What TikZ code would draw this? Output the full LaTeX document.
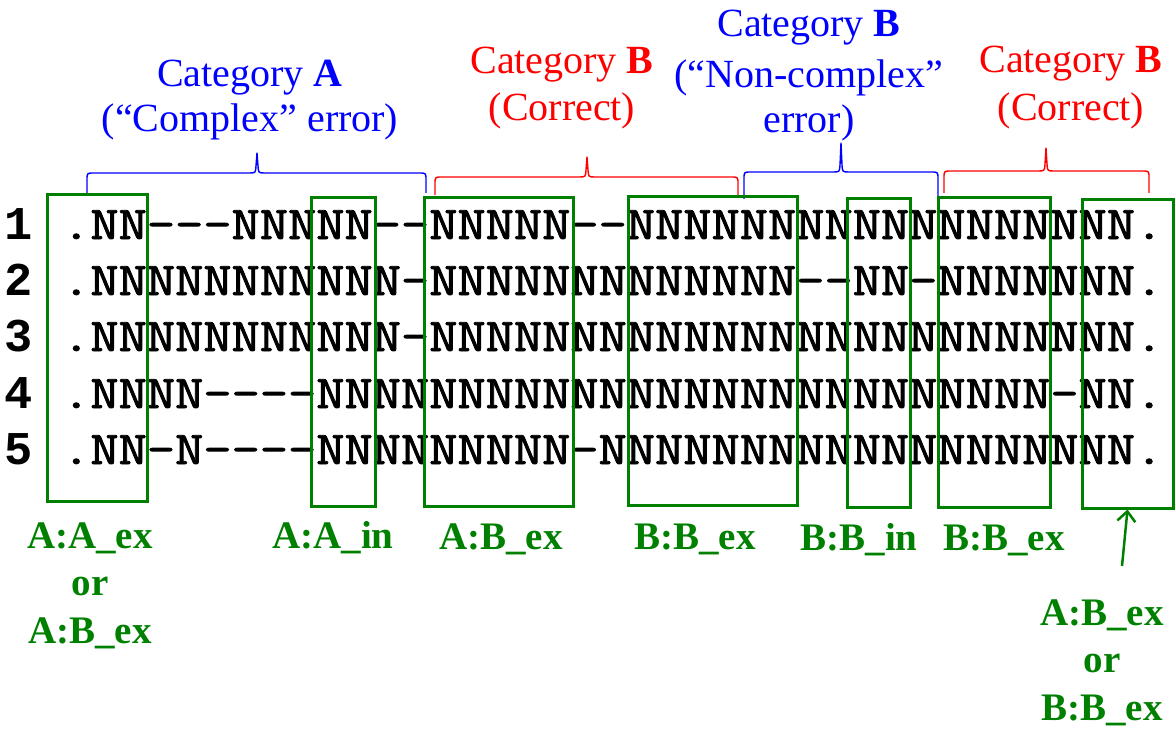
\documentclass[tikz,border=0pt]{standalone}
\usepackage{fontspec}
\usepackage{graphicx}
\setmainfont{Liberation Serif}
\newfontfamily\numfont{Liberation Mono}
\usetikzlibrary{arrows.meta}

\definecolor{boxgreen}{RGB}{0,128,0}
\definecolor{catblue}{RGB}{0,0,255}
\definecolor{catred}{RGB}{255,0,0}

% curly brace opening downwards: colour, left x, right x, tip x, bar y, foot y, tip y
\newcommand\catbrace[7]{%
  \draw[bracestyle,#1] (#2,#6) -- (#2,#5+7) .. controls (#2,#5) .. (#2+7,#5)
    -- (#4-8,#5) .. controls (#4-1.5,#5) .. (#4-1,#5-7) -- (#4,#7)
    -- (#4+1,#5-7) .. controls (#4+1.5,#5) .. (#4+8,#5)
    -- (#3-7,#5) .. controls (#3,#5) .. (#3,#5+7) -- (#3,#6);}

% one aligned sequence: typewriter letters widened to a 28.2bp pitch
% and drawn with a thin outline stroke to give them more weight
\newcommand\seqline[1]{\scalebox{1.1664}[1]{%
  \special{pdf:literal direct 0.8 w 2 Tr}#1\special{pdf:literal direct 0 Tr}}}

\tikzset{
  seq/.style={anchor=base west, inner sep=0pt,
    font=\ttfamily\fontsize{47bp}{47bp}\selectfont},
  rowno/.style={anchor=base, inner sep=0pt,
    font=\numfont\bfseries\fontsize{47bp}{47bp}\selectfont},
  cattext/.style={anchor=base, inner sep=0pt,
    font=\fontsize{40bp}{47bp}\selectfont},
  tag/.style={anchor=base, inner sep=0pt, text=boxgreen,
    font=\bfseries\fontsize{39bp}{47bp}\selectfont},
  gbox/.style={draw=boxgreen, line width=3bp, rectangle, inner sep=0pt},
  bracestyle/.style={line width=1.4bp, line join=round},
  garrow/.style={draw=boxgreen, line width=2.5bp,
    -{Straight Barb[length=10bp,width=18bp,line width=2.5bp]}},
}

\begin{document}
\begin{tikzpicture}[x=1bp,y=-1bp]
\useasboundingbox (0,0) rectangle (1176,729);

% category headings
\node[cattext, text=catblue] (catAa) at (250,87) {Category \textbf{A}};
\node[cattext, text=catblue] (catAb) at (250,132) {(“Complex” error)};
\node[cattext, text=catred] (catBa) at (562,74) {Category \textbf{B}};
\node[cattext, text=catred] (catBb) at (562,121) {(Correct)};
\node[cattext, text=catblue] (catCa) at (809,37) {Category \textbf{B}};
\node[cattext, text=catblue] (catCb) at (809,88) {(“Non-complex”};
\node[cattext, text=catblue] (catCc) at (809,133) {error)};
\node[cattext, text=catred] (catDa) at (1071,73) {Category \textbf{B}};
\node[cattext, text=catred] (catDb) at (1071,121) {(Correct)};

% braces under the headings
\catbrace{catblue}{87}{426}{257}{173}{193}{153}
\catbrace{catred}{435}{738}{587}{177}{195}{157}
\catbrace{catblue}{744}{938}{841}{172}{199}{143}
\catbrace{catred}{944}{1149}{1046}{171}{193}{148}

% row numbers and aligned sequences
\node[rowno] (n1) at (19,239) {1};
\node[rowno] (n2) at (19,295) {2};
\node[rowno] (n3) at (19,351) {3};
\node[rowno] (n4) at (19,408) {4};
\node[rowno] (n5) at (19,464) {5};
\node[seq] (s1) at (62,239) {\seqline{.NN---NNNNN--NNNNN--NNNNNNNNNNNNNNNNNN.}};
\node[seq] (s2) at (62,295) {\seqline{.NNNNNNNNNNN-NNNNNNNNNNNNN--NN-NNNNNNN.}};
\node[seq] (s3) at (62,351) {\seqline{.NNNNNNNNNNN-NNNNNNNNNNNNNNNNNNNNNNNNN.}};
\node[seq] (s4) at (62,408) {\seqline{.NNNN----NNNNNNNNNNNNNNNNNNNNNNNNNN-NN.}};
\node[seq] (s5) at (62,464) {\seqline{.NN-N----NNNNNNNNN-NNNNNNNNNNNNNNNNNNN.}};

% column windows
\node[gbox, minimum width=99bp, minimum height=307bp] (w1) at (97.5,348) {};
\node[gbox, minimum width=64bp, minimum height=308bp] (w2) at (343,352) {};
\node[gbox, minimum width=149bp, minimum height=308bp] (w3) at (498.5,352) {};
\node[gbox, minimum width=169bp, minimum height=308bp] (w4) at (712.5,351) {};
\node[gbox, minimum width=63bp, minimum height=308bp] (w5) at (878.5,353) {};
\node[gbox, minimum width=112bp, minimum height=309bp] (w6) at (994,352.5) {};
\node[gbox, minimum width=91bp, minimum height=308bp] (w7) at (1127.5,354) {};

% window labels
\node[tag] (t1a) at (90,548) {A:A\_ex};
\node[tag] (t1b) at (90,595) {or};
\node[tag] (t1c) at (90,643) {A:B\_ex};
\node[tag] (t2) at (333,548) {A:A\_in};
\node[tag] (t3) at (501,549) {A:B\_ex};
\node[tag] (t4) at (695,549) {B:B\_ex};
\node[tag] (t5) at (859,550) {B:B\_in};
\node[tag] (t6) at (1004,550) {B:B\_ex};
\node[tag] (t7a) at (1102,625) {A:B\_ex};
\node[tag] (t7b) at (1102,672) {or};
\node[tag] (t7c) at (1102,720) {B:B\_ex};

% pointer to the last window
\coordinate (ptail) at (1122,566);
\draw[garrow] (ptail) -- (w7.south);
\end{tikzpicture}
\end{document}
